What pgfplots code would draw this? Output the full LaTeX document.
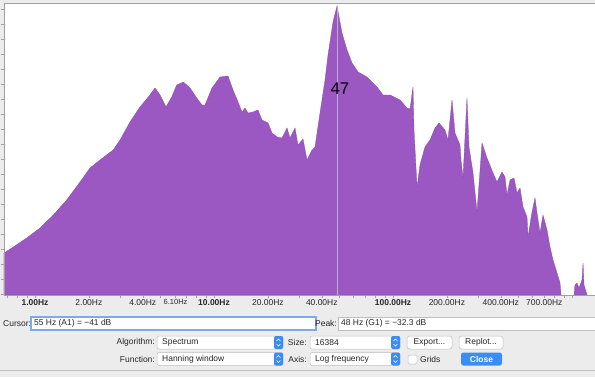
\documentclass[border=0pt]{standalone}
\usepackage{pgfplots}
\pgfplotsset{compat=1.18}
\usepackage{fontspec}
\setmainfont{Liberation Sans}
\definecolor{spec}{RGB}{155,88,195}
\definecolor{bg}{RGB}{236,236,236}
\definecolor{axgray}{RGB}{160,160,160}
\definecolor{macblue}{RGB}{60,140,245}
\definecolor{focus}{RGB}{125,170,235}
\definecolor{boxgray}{RGB}{190,190,190}
\definecolor{cursorline}{RGB}{190,172,208}
\newcommand\ui{\fontsize{8.5}{10}\selectfont}
\newcommand\dropdown[4]{%
  \draw[boxgray, fill=white, rounded corners=2bp, line width=0.5bp] (#1,#2) rectangle (#3,#2+13);
  \fill[macblue, rounded corners=2bp] (#3-9,#2) rectangle (#3,#2+13);
  \draw[white, line width=0.7bp] (#3-6.5,#2+5) -- (#3-4.5,#2+3) -- (#3-2.5,#2+5);
  \draw[white, line width=0.7bp] (#3-6.5,#2+8) -- (#3-4.5,#2+10) -- (#3-2.5,#2+8);
  \node[anchor=west] at (#1+5,#2+6.5) {#4};
}
\begin{document}
\begin{tikzpicture}
\useasboundingbox (0,0) rectangle (595bp,-377bp);
\fill[bg] (0,0) rectangle (595bp,-377bp);
\fill[white] (4bp,-3bp) rectangle (595bp,-295bp);
\begin{axis}[
  at={(4bp,-295bp)}, anchor=south west,
  scale only axis, width=591bp, height=292bp,
  xmode=log, xmin=0.6711, xmax=1344, ymin=0, ymax=292,
  axis x line*=bottom, axis y line*=left,
  axis line style={draw=axgray, -},
  axis on top,
  tick align=outside,
  tick style={draw=axgray, line width=0.5bp},
  major tick length=3bp, minor tick length=3bp,
  xtick={1,2,4,6.1,10,20,40,100,200,400,700},
  xticklabels={\textbf{1.00Hz},2.00Hz,4.00Hz,{\fontsize{7.5}{9}\selectfont 6.10Hz},\textbf{10.00Hz},20.00Hz,40.00Hz,\textbf{100.00Hz},200.00Hz,400.00Hz,700.00Hz},
  minor xtick={0.7,0.8,0.9,3,5,7,8,9,30,50,60,70,80,90,300,500,600,800,900,1000},
  xticklabel style={font=\fontsize{8.5}{10}\selectfont, text=black!85, inner sep=1.5bp},
  ytick={1,16,...,286}, yticklabels={},
  ytick style={draw=axgray},
]
\addplot[fill=spec, draw=spec!85!black, line width=0.3bp] coordinates {
(0.6711,42) (0.7563,48) (0.8987,57) (1.0664,67) (1.2654,80) (1.5035,95) (1.7845,113) (2.0289,127) (2.3075,135) (2.734,145) (2.9852,155) (3.394,173) (3.860,188) (4.296,198) (4.682,207) (4.993,200) (5.394,188) (5.803,198) (6.188,210) (6.738,213) (7.346,207) (8.004,197) (8.569,190) (8.907,190) (9.746,207) (10.80,218) (11.97,219) (12.77,205) (13.62,193) (14.34,183) (14.90,187) (15.49,182) (16.51,183) (17.61,185) (18.54,175) (20.03,172) (21.09,162) (22.49,158) (23.98,157) (25.58,167) (26.58,157) (28.35,167) (29.46,150) (31.42,156) (33.08,135) (35.28,145) (36.66,148) (39.10,182) (41.70,215) (43.34,240) (46.22,273) (48.66,289) (51.89,262) (55.34,245) (59.02,232) (63.75,223) (71.57,218) (81.39,208) (87.93,200) (96.22,200) (109.4,195) (119.7,187) (124.5,186) (129.3,208) (131.0,165) (136.2,108) (141.5,130) (150.9,148) (161.0,155) (171.7,167) (180.7,172) (195.3,165) (202.9,155) (213.6,195) (222.0,162) (236.7,150) (239.8,135) (246.0,117) (259.0,197) (265.8,148) (279.9,122) (294.7,83) (314.2,152) (335.0,137) (361.9,122) (381.1,113) (406.4,123) (422.4,118) (433.4,100) (450.4,115) (474.2,117) (492.9,102) (512.3,107) (532.5,88) (560.6,78) (567.8,58) (597.8,83) (621.4,97) (637.6,82) (662.6,62) (688.7,80) (725.1,65) (753.6,48) (783.3,35) (824.7,22) (857.1,12) (868.2,0)
} \closedcycle;
\addplot[fill=spec, draw=spec!85!black, line width=0.3bp] coordinates {
(1026,0) (1039,10) (1066,12) (1094,7) (1137,15) (1152,32) (1167,10) (1213,0)
} \closedcycle;
\addplot[draw=cursorline, line width=0.8bp] coordinates {(48.66,0) (48.66,289)};
\end{axis}
\draw[axgray, line width=0.5bp] (4bp,-3bp) -- (595bp,-3bp);
\begin{scope}[x=1bp,y=-1bp, every node/.style={font=\ui, inner sep=0pt, text=black!85}]
\node[font=\fontsize{17}{20}\selectfont, text=black] at (340,89) {47};
\node[anchor=west] at (3,323.5) {Cursor:};
\draw[focus, fill=white, line width=1.2bp] (31,317) rectangle (316,330);
\node[anchor=west] at (34,323.5) {55 Hz (A1) = −41 dB};
\node[anchor=east] at (337,323.5) {Peak:};
\draw[boxgray, fill=white, line width=0.6bp] (338,317) rectangle (600,330);
\node[anchor=west] at (341,323.5) {48 Hz (G1) = −32.3 dB};
\node[anchor=east] at (155,342.5) {Algorithm:};
\dropdown{157}{336}{283}{Spectrum}
\node[anchor=east] at (307,342.5) {Size:};
\dropdown{310}{336}{400}{16384}
\draw[boxgray, fill=white, rounded corners=2.5bp, line width=0.5bp] (407,336) rectangle (452,349);
\node at (429.5,342.5) {Export...};
\draw[boxgray, fill=white, rounded corners=2.5bp, line width=0.5bp] (459,336) rectangle (503,349);
\node at (481,342.5) {Replot...};
\node[anchor=east] at (155,359) {Function:};
\dropdown{157}{352.5}{283}{Hanning window}
\node[anchor=east] at (307,359) {Axis:};
\dropdown{310}{352.5}{400}{Log frequency}
\draw[boxgray, fill=white, rounded corners=1.5bp, line width=0.5bp] (408,355) rectangle (417,364);
\node[anchor=west] at (420,359) {Grids};
\fill[macblue, rounded corners=2.5bp] (461,352.5) rectangle (502,365.5);
\node[text=white, font=\ui\bfseries] at (481.5,359) {Close};
\draw[black!25, line width=0.5bp] (0,370) -- (595,370);
\end{scope}
\end{tikzpicture}
\end{document}
